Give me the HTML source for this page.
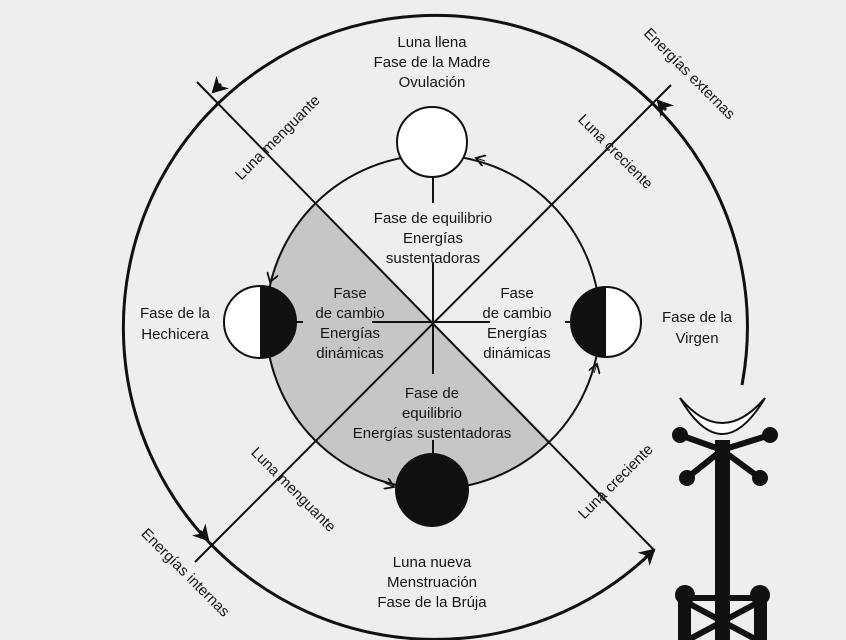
<!DOCTYPE html>
<html><head><meta charset="utf-8"><style>
html,body{margin:0;padding:0;background:#eeeeee;}
svg{display:block}
text{font-family:"Liberation Sans",sans-serif;font-size:15px;fill:#151515;}
</style></head><body>
<svg width="846" height="640" viewBox="0 0 846 640" xmlns="http://www.w3.org/2000/svg">
<defs>
<marker id="ah" markerWidth="20" markerHeight="20" refX="14" refY="9" orient="auto" markerUnits="userSpaceOnUse">
<path d="M0,0 L16,9 L0,18 L5,9 Z" fill="#111"/>
</marker>
<marker id="ahs" markerWidth="12" markerHeight="12" refX="9" refY="6" orient="auto" markerUnits="userSpaceOnUse">
<path d="M0,0 L9,6 L0,12" fill="none" stroke="#111" stroke-width="1.8"/>
</marker>
</defs>
<rect width="846" height="640" fill="#eeeeee"/>
<path d="M315,202 A167,167 0 0 0 551,442 Z" fill="#c6c6c6"/>
<path d="M742,385 A312,312 0 1 0 654,550" fill="none" stroke="#111" stroke-width="3"/>
<line x1="666" y1="110" x2="658" y2="101" stroke="#111" stroke-width="3" marker-end="url(#ah)"/>
<line x1="221" y1="84" x2="213" y2="92" stroke="#111" stroke-width="3" marker-end="url(#ah)"/>
<line x1="200" y1="531" x2="208" y2="540" stroke="#111" stroke-width="3" marker-end="url(#ah)"/>
<line x1="645" y1="558" x2="654" y2="550" stroke="#111" stroke-width="3" marker-end="url(#ah)"/>
<line x1="197" y1="82" x2="654" y2="550" stroke="#111" stroke-width="2"/>
<line x1="671" y1="85" x2="195" y2="562" stroke="#111" stroke-width="2"/>
<circle cx="433" cy="322" r="167" fill="none" stroke="#111" stroke-width="2"/>
<line x1="485" y1="161" x2="476" y2="158" stroke="#111" stroke-width="1" marker-end="url(#ahs)"/>
<line x1="273" y1="273" x2="270" y2="282" stroke="#111" stroke-width="1" marker-end="url(#ahs)"/>
<line x1="385" y1="483" x2="394" y2="487" stroke="#111" stroke-width="1" marker-end="url(#ahs)"/>
<line x1="594" y1="373" x2="597" y2="364" stroke="#111" stroke-width="1" marker-end="url(#ahs)"/>
<line x1="433" y1="176" x2="433" y2="203" stroke="#111" stroke-width="2"/>
<line x1="433" y1="263" x2="433" y2="374" stroke="#111" stroke-width="2"/>
<line x1="372" y1="322" x2="490" y2="322" stroke="#111" stroke-width="2"/>
<line x1="296" y1="322" x2="303" y2="322" stroke="#111" stroke-width="2"/>
<line x1="565" y1="322" x2="572" y2="322" stroke="#111" stroke-width="2"/>
<line x1="433" y1="440" x2="433" y2="458" stroke="#111" stroke-width="2"/>
<circle cx="432" cy="142" r="35" fill="#fff" stroke="#111" stroke-width="2"/>
<circle cx="432" cy="490" r="37" fill="#111"/>
<circle cx="260" cy="322" r="36" fill="#fff" stroke="#111" stroke-width="2"/>
<path d="M260,286 A36,36 0 0 1 260,358 Z" fill="#111"/>
<circle cx="606" cy="322" r="35" fill="#fff" stroke="#111" stroke-width="2"/>
<path d="M606,287 A35,35 0 0 0 606,357 Z" fill="#111"/>
<g text-anchor="middle">
<text x="432" y="47">Luna llena</text>
<text x="432" y="67">Fase de la Madre</text>
<text x="432" y="87">Ovulación</text>
<text x="433" y="223">Fase de equilibrio</text>
<text x="433" y="243">Energías</text>
<text x="433" y="263">sustentadoras</text>
<text x="350" y="298">Fase</text>
<text x="350" y="318">de cambio</text>
<text x="350" y="338">Energías</text>
<text x="350" y="358">dinámicas</text>
<text x="517" y="298">Fase</text>
<text x="517" y="318">de cambio</text>
<text x="517" y="338">Energías</text>
<text x="517" y="358">dinámicas</text>
<text x="432" y="398">Fase de</text>
<text x="432" y="418">equilibrio</text>
<text x="432" y="438">Energías sustentadoras</text>
<text x="175" y="318">Fase de la</text>
<text x="175" y="339">Hechicera</text>
<text x="697" y="322">Fase de la</text>
<text x="697" y="343">Virgen</text>
<text x="432" y="567">Luna nueva</text>
<text x="432" y="587">Menstruación</text>
<text x="432" y="607">Fase de la Brúja</text>
<text transform="translate(281,141) rotate(-45)">Luna menguante</text>
<text transform="translate(612,155) rotate(45)">Luna creciente</text>
<text transform="translate(686,77) rotate(45)">Energías externas</text>
<text transform="translate(290,493) rotate(45)">Luna menguante</text>
<text transform="translate(619,485) rotate(-45)">Luna creciente</text>
<text transform="translate(182,576) rotate(45)">Energías internas</text>
</g>
<path d="M680,398 Q722,470 765,398 Q722,448 680,398 Z" fill="#fff" stroke="#111" stroke-width="2"/>
<g stroke="#111" stroke-width="6" stroke-linecap="round">
<line x1="680" y1="435" x2="722" y2="450"/>
<line x1="770" y1="435" x2="722" y2="450"/>
<line x1="687" y1="478" x2="722" y2="450"/>
<line x1="760" y1="478" x2="722" y2="450"/>
<line x1="685" y1="598" x2="760" y2="598"/>
<line x1="688" y1="603" x2="757" y2="640"/>
<line x1="757" y1="603" x2="688" y2="640"/>
</g>
<rect x="715" y="440" width="15" height="200" fill="#111"/>
<rect x="678" y="595" width="13" height="45" fill="#111"/>
<rect x="754" y="595" width="13" height="45" fill="#111"/>
<g fill="#111">
<circle cx="680" cy="435" r="8"/><circle cx="770" cy="435" r="8"/>
<circle cx="687" cy="478" r="8"/><circle cx="760" cy="478" r="8"/>
<circle cx="685" cy="595" r="10"/><circle cx="760" cy="595" r="10"/>
</g>
</svg>
</body></html>
